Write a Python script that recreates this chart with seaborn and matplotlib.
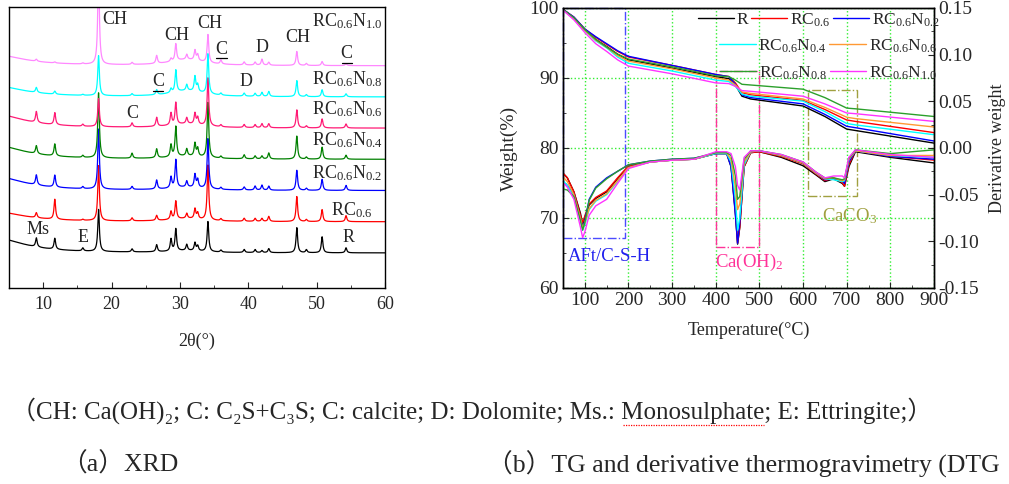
import numpy as np
import pandas as pd
import matplotlib
matplotlib.use('Agg')
import matplotlib.pyplot as plt
from matplotlib.lines import Line2D
from matplotlib.patches import Rectangle
import seaborn as sns

# ---------------- data ----------------
samples = ['R', 'RC0.6', 'RC0.6N0.2', 'RC0.6N0.4', 'RC0.6N0.6', 'RC0.6N0.8', 'RC0.6N1.0']
labels_tex = ['R', r'RC$_{0.6}$', r'RC$_{0.6}$N$_{0.2}$', r'RC$_{0.6}$N$_{0.4}$',
              r'RC$_{0.6}$N$_{0.6}$', r'RC$_{0.6}$N$_{0.8}$', r'RC$_{0.6}$N$_{1.0}$']

# XRD peak positions (2theta) and peak heights
peak_pos = [9.0, 11.7, 15.8, 18.1, 23.0, 26.6, 28.7, 29.4, 31.0, 32.2, 32.6,
            34.1, 36.0, 39.4, 41.0, 42.0, 43.0, 47.1, 48.5, 50.8, 54.3]
h_R = [9, 11, 3, 42, 3, 7, 12, 22, 6, 8, 5, 30, 2, 3, 3, 2, 4, 25, 3, 16, 5]
h_RC06 = [5, 20, 1, 55, 3, 5, 8, 18, 5, 10, 6, 55, 2, 3, 3, 3, 5, 25, 2, 12, 6]
h_N02 = [10, 12, 2, 60, 3, 9, 11, 28, 6, 13, 8, 50, 2, 3, 4, 5, 4, 20, 2, 11, 5]
h_N04 = [8, 12, 2, 65, 5, 9, 12, 30, 7, 13, 8, 55, 2, 4, 3, 3, 6, 23, 2, 12, 4]
h_N06 = [11, 12, 2, 28, 4, 9, 12, 22, 6, 11, 7, 48, 2, 3, 3, 4, 4, 18, 2, 9, 4]
h_N08 = [5, 3, 1, 40, 2, 5, 4, 22, 6, 15, 7, 40, 2, 3, 3, 4, 5, 16, 2, 7, 3]
h_N10 = [2, 1, 1, 95, 2, 8, 3, 17, 5, 10, 6, 28, 4, 3, 3, 6, 3, 14, 2, 4, 2]
low_angle = [15, 10, 14, 14, 14, 11, 11]   # background rise at low angle
csh_hump = [2, 3, 3, 3, 4, 6, 6]           # broad hump near 31 deg

# TG (weight %)
T_tg = [50, 75, 100, 125, 150, 175, 200, 300, 400, 430, 445, 460, 480, 600, 650, 700, 720, 900]
tg_R = [99.8, 98.6, 96.9, 95.5, 94.5, 93.4, 92.6, 91.4, 90.2, 89.9, 89.0, 87.4, 87.0, 86.0, 84.5, 82.7, 82.5, 80.7]
tg_RC06 = [99.8, 98.7, 97.0, 95.8, 94.8, 93.8, 93.0, 91.8, 90.5, 90.2, 89.3, 87.9, 87.6, 86.8, 85.5, 84.0, 83.8, 82.2]
tg_N02 = [99.8, 98.7, 97.0, 95.9, 94.9, 93.9, 93.1, 91.8, 90.5, 90.2, 89.1, 87.6, 87.2, 86.3, 84.8, 83.1, 82.9, 81.0]
tg_N04 = [99.7, 98.5, 96.8, 95.3, 94.3, 93.0, 92.1, 91.0, 89.7, 89.5, 88.8, 87.7, 87.4, 86.7, 85.2, 83.5, 83.3, 81.9]
tg_N06 = [99.7, 98.5, 96.8, 95.4, 94.4, 93.2, 92.4, 91.3, 90.0, 89.7, 89.0, 88.0, 87.8, 87.0, 85.8, 84.4, 84.2, 83.0]
tg_N08 = [99.8, 98.6, 96.9, 95.5, 94.4, 93.4, 92.7, 91.6, 90.3, 90.2, 89.7, 89.1, 89.0, 88.4, 87.2, 85.7, 85.6, 84.5]
tg_N10 = [99.7, 98.3, 96.5, 94.9, 93.8, 92.6, 91.7, 90.6, 89.3, 89.2, 88.8, 88.2, 88.1, 87.4, 86.3, 85.0, 84.9, 83.8]

# DTG (derivative weight)
T_dtg = [50, 60, 75, 90, 95, 100, 110, 125, 150, 175, 200, 250, 300, 350, 400, 425, 435,
         445, 450, 455, 465, 480, 500, 550, 600, 630, 650, 670, 690, 695, 705, 720, 800, 900]
dtg_R = [-0.027, -0.032, -0.047, -0.070, -0.082, -0.074, -0.061, -0.054, -0.047, -0.033, -0.020,
         -0.015, -0.013, -0.012, -0.006, -0.006, -0.020, -0.070, -0.103, -0.085, -0.020, -0.005,
         -0.004, -0.010, -0.019, -0.029, -0.036, -0.033, -0.038, -0.041, -0.020, -0.004, -0.010, -0.016]
dtg_RC06 = [-0.027, -0.032, -0.047, -0.072, -0.080, -0.073, -0.060, -0.053, -0.046, -0.032, -0.019,
            -0.015, -0.013, -0.012, -0.006, -0.006, -0.018, -0.068, -0.102, -0.085, -0.020, -0.005,
            -0.004, -0.009, -0.017, -0.028, -0.035, -0.032, -0.037, -0.041, -0.018, -0.003, -0.009, -0.013]
dtg_N02 = [-0.037, -0.040, -0.050, -0.075, -0.085, -0.078, -0.055, -0.042, -0.032, -0.025, -0.018,
           -0.014, -0.012, -0.011, -0.006, -0.006, -0.020, -0.072, -0.102, -0.080, -0.016, -0.004,
           -0.003, -0.008, -0.016, -0.027, -0.034, -0.033, -0.035, -0.038, -0.015, -0.003, -0.009, -0.012]
dtg_N04 = [-0.035, -0.040, -0.052, -0.078, -0.088, -0.082, -0.066, -0.057, -0.050, -0.036, -0.021,
           -0.015, -0.013, -0.012, -0.006, -0.006, -0.015, -0.055, -0.088, -0.075, -0.018, -0.004,
           -0.003, -0.008, -0.016, -0.027, -0.033, -0.034, -0.036, -0.035, -0.012, -0.003, -0.008, -0.010]
dtg_N06 = [-0.031, -0.036, -0.050, -0.075, -0.086, -0.080, -0.065, -0.056, -0.049, -0.035, -0.021,
           -0.015, -0.013, -0.012, -0.005, -0.005, -0.012, -0.042, -0.066, -0.060, -0.015, -0.004,
           -0.003, -0.008, -0.016, -0.027, -0.033, -0.032, -0.035, -0.034, -0.012, -0.003, -0.008, -0.008]
dtg_N08 = [-0.044, -0.045, -0.052, -0.078, -0.088, -0.080, -0.056, -0.043, -0.033, -0.025, -0.018,
           -0.014, -0.012, -0.011, -0.005, -0.005, -0.008, -0.030, -0.055, -0.052, -0.012, -0.003,
           -0.003, -0.007, -0.015, -0.026, -0.032, -0.032, -0.034, -0.033, -0.011, -0.002, -0.006, -0.002]
dtg_N10 = [-0.037, -0.042, -0.055, -0.085, -0.096, -0.090, -0.072, -0.062, -0.055, -0.038, -0.022,
           -0.015, -0.013, -0.012, -0.004, -0.004, -0.006, -0.020, -0.040, -0.045, -0.010, -0.003,
           -0.003, -0.007, -0.015, -0.026, -0.032, -0.030, -0.030, -0.032, -0.010, -0.002, -0.007, -0.010]

xrd_heights = [h_R, h_RC06, h_N02, h_N04, h_N06, h_N08, h_N10]
tg_all = [tg_R, tg_RC06, tg_N02, tg_N04, tg_N06, tg_N08, tg_N10]
dtg_all = [dtg_R, dtg_RC06, dtg_N02, dtg_N04, dtg_N06, dtg_N08, dtg_N10]

xrd_colors = ['black', 'red', 'blue', 'green', '#ff1a75', 'cyan', '#ff88ff']
tg_colors = ['black', 'red', 'blue', 'cyan', '#ff9933', '#2ca02c', '#ff33ff']

# ---------------- style ----------------
sns.set_style('ticks')
plt.rcParams['font.family'] = ['Liberation Serif', 'DejaVu Serif', 'Noto Sans CJK SC']
plt.rcParams['mathtext.fontset'] = 'custom'
plt.rcParams['mathtext.rm'] = 'Liberation Serif'
plt.rcParams['mathtext.it'] = 'Liberation Serif:italic'
plt.rcParams['xtick.direction'] = 'in'
plt.rcParams['ytick.direction'] = 'in'
plt.rcParams['axes.edgecolor'] = 'black'
plt.rcParams['axes.linewidth'] = 1.0

fig = plt.figure(figsize=(10.09, 4.84), dpi=100)
W, H = 1009, 484
ax1 = fig.add_axes([9 / W, 1 - 288 / H, 376 / W, 281 / H])
ax = fig.add_axes([563 / W, 1 - 288 / H, 371 / W, 280 / H])

# ---------------- (a) XRD ----------------
tt = np.arange(5, 60.001, 0.02)
rows = []
for i, s in enumerate(samples):
    y = 35 + 31.2 * i
    y = y + low_angle[i] / (1 + ((tt - 3) / 5) ** 2) + csh_hump[i] / (1 + ((tt - 31) / 3) ** 2)
    for c, h in zip(peak_pos, xrd_heights[i]):
        y = y + h / (1 + ((tt - c) / 0.14) ** 2)
    rows.append(pd.DataFrame({'tt': tt, 'I': y, 'sample': s}))
xrd = pd.concat(rows)
sns.lineplot(data=xrd, x='tt', y='I', hue='sample', hue_order=samples,
             palette=xrd_colors, estimator=None, sort=False, lw=0.9, legend=False, ax=ax1)
ax1.set_xlim(5, 60)
ax1.set_ylim(0, 281)
ax1.set_yticks([])
ax1.set_xticks(range(10, 61, 10))
ax1.set_xticks(range(5, 61, 5), minor=True)
ax1.tick_params(axis='x', which='major', length=4, labelsize=13, pad=6)
ax1.tick_params(axis='x', which='minor', length=2.5)
ax1.set_xlabel('2θ(°)', fontsize=13, labelpad=14)
ax1.set_ylabel('')

fs = 13
for txt, x, y in [('CH', 20.5, 268), ('CH', 29.6, 253), ('CH', 34.3, 264), ('D', 42.0, 241),
                  ('CH', 47.2, 250), ('D', 39.6, 206), ('C', 23.1, 175), ('Ms', 9.2, 58),
                  ('E', 15.8, 50), ('R', 54.6, 51)]:
    ax1.text(x, y, txt, fontsize=fs, ha='center', va='center')
for x, y in [(36.1, 239), (54.4, 234), (26.8, 206)]:
    ax1.text(x, y, 'C', fontsize=fs, ha='center', va='center')
    ax1.plot([x - 0.75, x + 0.75], [y - 9, y - 9], color='black', lw=0.9)
for lab, y in zip(labels_tex[2:], [115, 148, 179, 209, 267]):
    ax1.text(59.7, y, lab, fontsize=fs, ha='right', va='center')
ax1.text(58.1, 78, labels_tex[1], fontsize=fs, ha='right', va='center')

# ---------------- (b) TG / DTG ----------------
tg = pd.concat([pd.DataFrame({'T': T_tg, 'w': tg_all[i], 'sample': s}) for i, s in enumerate(samples)])
dtg = pd.concat([pd.DataFrame({'T': T_dtg, 'd': dtg_all[i], 'sample': s}) for i, s in enumerate(samples)])

ax.grid(True, which='major', color='#33ee33', ls=':', lw=1.0)
sns.lineplot(data=tg, x='T', y='w', hue='sample', hue_order=samples, palette=tg_colors,
             estimator=None, sort=False, lw=1.0, legend=False, ax=ax)
ax.set_xlim(50, 900)
ax.set_ylim(60, 100)
ax.set_xticks(range(100, 901, 100))
ax.set_xticks(range(50, 901, 50), minor=True)
ax.set_yticks([60, 70, 80, 90, 100])
ax.set_yticks(range(60, 101, 5), minor=True)
ax.tick_params(which='major', length=4, labelsize=14, pad=3)
ax.tick_params(which='minor', length=2.5)
ax.set_xlabel('Temperature(°C)', fontsize=13, labelpad=9)
ax.set_ylabel('Weight(%)', fontsize=14, labelpad=8)

ax2 = ax.twinx()
sns.lineplot(data=dtg, x='T', y='d', hue='sample', hue_order=samples, palette=tg_colors,
             estimator=None, sort=False, lw=1.0, legend=False, ax=ax2)
ax2.set_ylim(-0.15, 0.15)
ax2.set_yticks([-0.15, -0.10, -0.05, 0.00, 0.05, 0.10, 0.15])
ax2.set_yticklabels(['-0.15', '-0.10', '-0.05', '0.00', '0.05', '0.10', '0.15'])
ax2.set_yticks(np.arange(-0.15, 0.151, 0.025), minor=True)
ax2.tick_params(which='major', length=4, labelsize=14, pad=3)
ax2.tick_params(which='minor', length=2.5)
ax2.set_ylabel('Derivative weight', fontsize=13, labelpad=7)

# region boxes
ax.add_patch(Rectangle((50, 67.1), 143, 32.9, fill=False, ec='#4b4bff', ls='-.', lw=1.0, clip_on=False))
ax.add_patch(Rectangle((400, 65.8), 100, 25.2, fill=False, ec='#ff3399', ls='-.', lw=1.0))
ax.add_patch(Rectangle((611, 73.1), 112, 15.2, fill=False, ec='#a0a040', ls='-.', lw=1.0))
ax.text(62, 64.5, 'AFt/C-S-H', color='#2020ee', fontsize=13.5, ha='left', va='center')
ax.text(399, 63.6, r'Ca(OH)$_{2}$', color='#ff3399', fontsize=13.5, ha='left', va='center')
ax.text(643, 70.2, r'CaCO$_{3}$', color='#a0a040', fontsize=13.5, ha='left', va='center')

# legend in three rows
handles = [Line2D([], [], color=c, lw=1.0) for c in tg_colors]
rows_idx = [[0, 1, 2], [3, 4], [5, 6]]
rows_y = [0.957, 0.864, 0.767]
rows_x = [1.016, 1.008, 1.008]
for k, (idx, yy, xx) in enumerate(zip(rows_idx, rows_y, rows_x)):
    leg = ax2.legend([handles[j] for j in idx], [labels_tex[j] for j in idx], ncol=len(idx),
                     loc='center right', bbox_to_anchor=(xx, yy), frameon=False, fontsize=12.5,
                     handlelength=2.1, handletextpad=0.15, columnspacing=0.15, borderpad=0,
                     borderaxespad=0)
    if k < 2:
        ax2.add_artist(leg)

# ---------------- captions ----------------
cap_pre = '（CH: Ca(OH)₂; C: C₂S+C₃S; C: calcite; D: Dolomite; Ms.: '
cap_word = 'Monosulphate'
cap_post = '; E: Ettringite;）'
cfs = 18
x0, y0 = 11 / W, 1 - 411 / H
fig.text(x0, y0, cap_pre + cap_word + cap_post, fontsize=cfs, ha='left', va='center')
renderer = fig.canvas.get_renderer()
m1 = fig.text(x0, y0, cap_pre, fontsize=cfs, ha='left', va='center', alpha=0)
m2 = fig.text(x0, y0, cap_pre + cap_word, fontsize=cfs, ha='left', va='center', alpha=0)
u0 = m1.get_window_extent(renderer).x1 / W
u1 = m2.get_window_extent(renderer).x1 / W
m1.remove()
m2.remove()
fig.add_artist(Line2D([u0 + 0.002, u1], [1 - 425 / H, 1 - 425 / H], color='red', lw=0.9, ls=(0, (1, 1))))

fig.text(61 / W, 1 - 464 / H, '（a）XRD', fontsize=18.5, ha='left', va='center')
fig.text(487 / W, 1 - 464 / H, '（b）TG and derivative thermogravimetry (DTG', fontsize=18.5,
         ha='left', va='center')

fig.savefig('out.png', dpi=100)
